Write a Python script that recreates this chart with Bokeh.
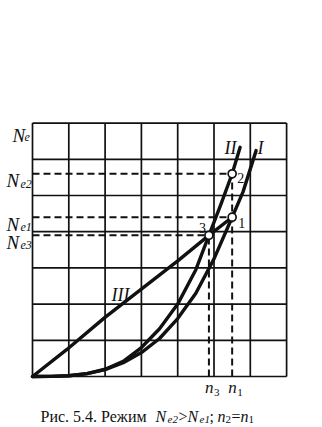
from bokeh.plotting import figure
from bokeh.models import Range1d
from bokeh.core.properties import value
from bokeh.embed import file_html
from bokeh.resources import INLINE

# ---- data (grid units) ----
grid_ticks = [0, 1, 2, 3, 4, 5, 6, 7]

curve_I_n = [0, 0.5, 1.0, 1.5, 2.0, 2.5, 3.0, 3.5, 4.0, 4.5, 5.0, 5.5, 5.8, 6.16]
curve_I_Ne = [0, 0.003, 0.02, 0.08, 0.19, 0.38, 0.66, 1.05, 1.6, 2.3, 3.25, 4.4, 5.1, 6.24]

curve_II_n = [0, 0.5, 1.0, 1.5, 2.0, 2.5, 3.0, 3.5, 4.0, 4.5, 4.86, 5.2, 5.5, 5.72]
curve_II_Ne = [0, 0.003, 0.02, 0.08, 0.2, 0.42, 0.8, 1.32, 2.0, 2.95, 3.9, 4.78, 5.6, 6.33]

curve_III_n = [0, 0.94, 1.98, 2.98, 4.01, 4.86, 5.5]
curve_III_Ne = [0, 0.74, 1.62, 2.4, 3.2, 3.9, 4.4]

n1, n3 = 5.5, 4.86
Ne1, Ne2, Ne3 = 4.4, 5.6, 3.9

# ---- layout ----
W, H = 322, 427
X0, Y0, SX, SY = 32, 376, 36.3, 36.2


def X(px):
    return (px - X0) / SX


def Y(py):
    return (Y0 - py) / SY


p = figure(width=W, height=H,
           x_range=Range1d(X(0), X(W)), y_range=Range1d(Y(H), Y(0)),
           x_axis_type=None, y_axis_type=None,
           toolbar_location=None, output_backend="svg", min_border=0)
p.xgrid.visible = False
p.ygrid.visible = False
p.outline_line_color = None
p.background_fill_color = "white"
p.border_fill_color = "white"

INK = "#111111"
top = grid_ticks[-1]

# grid
p.segment(x0=grid_ticks, y0=[0] * len(grid_ticks), x1=grid_ticks, y1=[top] * len(grid_ticks),
          line_color=INK, line_width=1.7)
p.segment(x0=[0] * len(grid_ticks), y0=grid_ticks, x1=[top] * len(grid_ticks), y1=grid_ticks,
          line_color=INK, line_width=1.7)

# dashed guides
dash = "7 4"
p.segment(x0=[0, 0, 0], y0=[Ne2, Ne1, Ne3], x1=[n1, n1, n3], y1=[Ne2, Ne1, Ne3],
          line_color=INK, line_width=2, line_dash=dash)
p.segment(x0=[n1, n3], y0=[0, 0], x1=[n1, n3], y1=[Ne2, Ne3],
          line_color=INK, line_width=2, line_dash=dash)

# curves
for cx, cy in [(curve_I_n, curve_I_Ne), (curve_II_n, curve_II_Ne), (curve_III_n, curve_III_Ne)]:
    p.line(cx, cy, line_color=INK, line_width=3.4, line_join="round", line_cap="round")

# points
p.scatter([n1, n1, n3], [Ne2, Ne1, Ne3], size=8, fill_color="white",
          line_color=INK, line_width=1.7)

SERIF = value("Liberation Serif")


def lab(x, y, txt, dx=0, dy=0, size="17px", style="italic", align="left"):
    p.text(x=[x], y=[y], text=[txt], x_offset=dx, y_offset=dy,
           text_font=SERIF, text_font_style=style, text_font_size=size,
           text_color=INK, text_align=align, text_baseline="alphabetic")


# y-axis labels
lab(0, top, "N", -20, 12, size="19px")
lab(0, top, "e", -8, 14, size="12px")
for lvl, sub in [(Ne2, "e2"), (Ne1, "e1"), (Ne3, "e3")]:
    lab(0, lvl, "N", -26, 7, size="19px")
    lab(0, lvl, sub, -12, 10, size="12px")

# x-axis labels
lab(n3, 0, "n", -4, 11, size="17px")
lab(n3, 0, "3", 5, 16, size="11px", style="normal")
lab(n1, 0, "n", -4, 11, size="17px")
lab(n1, 0, "1", 5, 16, size="11px", style="normal")

# curve labels
lab(X(224), Y(147), "II", size="18px")
lab(X(257), Y(147), "I", size="18px")
lab(X(111), Y(294), "III", size="18px")

# point labels
lab(n1, Ne2, "2", 5, 4, size="14px", style="normal")
lab(n1, Ne1, "1", 6, 6, size="14px", style="normal")
lab(n3, Ne3, "3", -10, -7, size="14px", style="normal")

# caption
cy = Y(416)
lab(X(40), cy, "Рис. 5.4. Режим", size="16px", style="normal")
lab(X(155), cy, "N", size="16px")
lab(X(167), cy, "e2", dy=3, size="11px")
lab(X(178), cy, ">", size="16px", style="normal")
lab(X(187), cy, "N", size="16px")
lab(X(199), cy, "e1", dy=3, size="11px")
lab(X(209), cy, ";", size="16px", style="normal")
lab(X(217), cy, "n", size="16px")
lab(X(225), cy, "2", dy=3, size="11px", style="normal")
lab(X(231), cy, "=", size="16px", style="normal")
lab(X(240), cy, "n", size="16px")
lab(X(248), cy, "1", dy=3, size="11px", style="normal")

open("out.html", "w").write(file_html(p, INLINE))
